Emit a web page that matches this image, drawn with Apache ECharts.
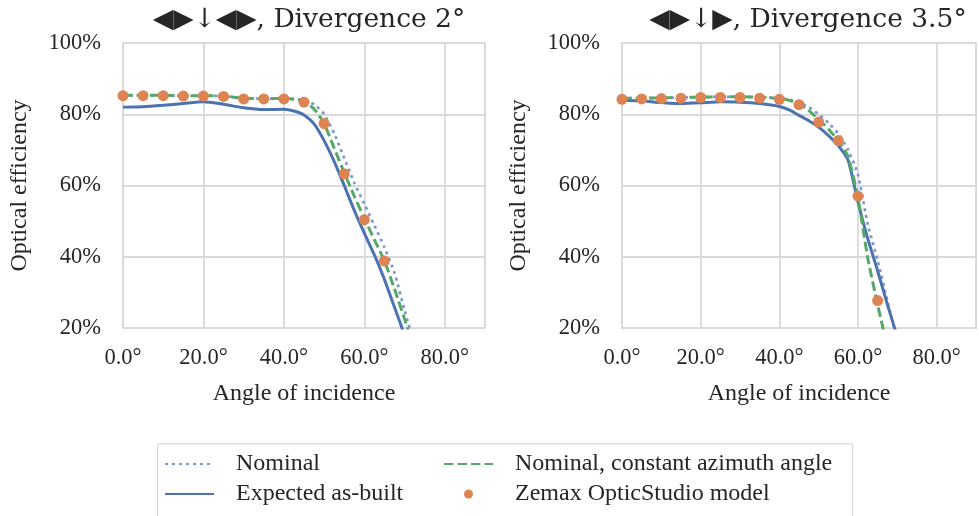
<!DOCTYPE html>
<html>
<head>
<meta charset="utf-8">
<script src="https://cdn.jsdelivr.net/npm/echarts@6/dist/echarts.min.js"></script>
<style>
  html, body { margin: 0; padding: 0; background: #ffffff; }
  #chart { width: 979px; height: 516px; }
</style>
</head>
<body>
<div id="chart"></div>
<script>
// Angle of incidence (degrees) sampled for the curves
const curveAngles = [0, 5, 10, 15, 20, 25, 30, 35, 40, 42.5, 45, 47.5, 50, 52.5, 55, 57.5, 60, 62.5, 65, 67.5, 70, 72.5];
// Angles at which the ray-trace model was evaluated
const modelAngles = [0, 5, 10, 15, 20, 25, 30, 35, 40, 45, 50, 55, 60, 65];

// Panel 1: divergence 2°
const leftNominal    = [85.3, 85.3, 85.3, 85.2, 85.2, 85.1, 84.5, 84.4, 84.4, 84.3, 83.9, 82.8, 80.0, 74.6, 67.7, 60.8, 54.8, 48.8, 42.6, 35.5, 25.0, 15.0];
const leftAsBuilt    = [82.0, 82.1, 82.5, 83.0, 83.5, 82.8, 81.8, 81.3, 81.4, 80.9, 79.8, 77.3, 72.6, 66.8, 60.0, 53.0, 46.6, 40.5, 33.6, 25.8, 18.0, null];
const leftConstAz    = [85.3, 85.3, 85.3, 85.2, 85.2, 85.1, 84.5, 84.4, 84.4, 84.2, 83.6, 81.5, 77.4, 70.5, 63.6, 57.0, 50.8, 44.8, 38.8, 31.0, 22.5, 14.0];
const leftModel      = [85.2, 85.2, 85.2, 85.1, 85.1, 85.0, 84.3, 84.3, 84.3, 83.4, 77.4, 63.3, 50.4, 38.8];

// Panel 2: divergence 3.5°
const rightNominal   = [84.5, 84.5, 84.6, 84.7, 84.8, 84.9, 84.9, 84.8, 84.5, 84.1, 83.3, 82.0, 80.0, 77.6, 74.5, 70.0, 63.0, 49.0, 39.0, 27.5, 16.5, null];
const rightAsBuilt   = [83.9, 83.7, 83.3, 83.0, 83.2, 83.5, 83.4, 83.0, 82.2, 81.2, 79.7, 78.2, 76.4, 74.0, 71.2, 67.0, 55.3, 45.0, 36.0, 26.5, 17.5, null];
const rightConstAz   = [84.5, 84.5, 84.6, 84.7, 84.8, 84.9, 84.9, 84.8, 84.4, 83.9, 83.0, 81.0, 78.6, 75.8, 72.6, 68.0, 56.5, 39.5, 26.5, 14.5, null, null];
const rightModel     = [84.2, 84.3, 84.4, 84.5, 84.7, 84.7, 84.7, 84.5, 84.2, 82.7, 77.8, 72.6, 57.0, 27.7];

const panelTitles = ['◀▶↓◀▶, Divergence 2°', '◀▶↓▶, Divergence 3.5°'];
const seriesNames = ['Nominal', 'Expected as-built', 'Nominal, constant azimuth angle', 'Zemax OpticStudio model'];
const xTicks = [0, 20, 40, 60, 80];
const yTicks = [20, 40, 60, 80, 100];

const TEXT = '#262626';
const GRID = '#dadada';
const SERIF = 'Liberation Serif, Times New Roman, serif';

function pairs(xs, ys) {
  const out = [];
  for (let i = 0; i < xs.length; i++) {
    if (ys[i] !== null && ys[i] !== undefined) out.push([xs[i], ys[i]]);
  }
  return out;
}

const panels = [
  { nominal: leftNominal, asBuilt: leftAsBuilt, constAz: leftConstAz, model: leftModel },
  { nominal: rightNominal, asBuilt: rightAsBuilt, constAz: rightConstAz, model: rightModel }
];
const gridLefts = [123, 622];

const grids = gridLefts.map(l => ({
  left: l, top: 43, width: 362, height: 285,
  show: true, borderColor: GRID, borderWidth: 1.8, backgroundColor: 'transparent'
}));

const xAxes = gridLefts.map((_, i) => ({
  type: 'value', gridIndex: i, min: 0, max: 90, interval: 20,
  name: 'Angle of incidence', nameLocation: 'middle', nameGap: 54,
  nameTextStyle: { fontFamily: SERIF, fontSize: 24, color: TEXT },
  axisLine: { show: false }, axisTick: { show: false },
  axisLabel: {
    fontFamily: SERIF, fontSize: 22.5, color: TEXT, margin: 19,
    formatter: v => (xTicks.indexOf(v) >= 0 ? v.toFixed(1) + '°' : '')
  },
  splitLine: { show: true, lineStyle: { color: GRID, width: 1.8 } }
}));

const yAxes = gridLefts.map((_, i) => ({
  type: 'value', gridIndex: i, min: 20, max: 100, interval: 20,
  name: 'Optical efficiency', nameLocation: 'middle', nameGap: 91,
  nameTextStyle: { fontFamily: SERIF, fontSize: 24, color: TEXT },
  axisLine: { show: false }, axisTick: { show: false },
  axisLabel: {
    fontFamily: SERIF, fontSize: 22.5, color: TEXT, margin: 22,
    formatter: v => (yTicks.indexOf(v) >= 0 ? v + '%' : '')
  },
  splitLine: { show: true, lineStyle: { color: GRID, width: 1.8 } }
}));

const series = [];
panels.forEach((p, i) => {
  series.push({
    name: seriesNames[0], type: 'line', xAxisIndex: i, yAxisIndex: i, z: 2,
    data: pairs(curveAngles, p.nominal), symbol: 'none', smooth: 0.2,
    lineStyle: { color: '#7d98cf', width: 2.7, type: [3, 4] },
    itemStyle: { color: '#7d98cf' }
  });
  series.push({
    name: seriesNames[1], type: 'line', xAxisIndex: i, yAxisIndex: i, z: 3,
    data: pairs(curveAngles, p.asBuilt), symbol: 'none', smooth: 0.2,
    lineStyle: { color: '#4C72B0', width: 3 },
    itemStyle: { color: '#4C72B0' }
  });
  series.push({
    name: seriesNames[2], type: 'line', xAxisIndex: i, yAxisIndex: i, z: 4,
    data: pairs(curveAngles, p.constAz), symbol: 'none', smooth: 0.2,
    lineStyle: { color: '#55A868', width: 3, type: [9.5, 4] },
    itemStyle: { color: '#55A868' }
  });
  series.push({
    name: seriesNames[3], type: 'scatter', xAxisIndex: i, yAxisIndex: i, z: 5,
    data: pairs(modelAngles, p.model), symbol: 'circle', symbolSize: 11,
    itemStyle: { color: '#DD8452', opacity: 1 }
  });
});

const legendText = { fontFamily: SERIF, fontSize: 24, color: TEXT, padding: [0, 0, 0, 17] };
// line entries show only the stroke sample, no marker
const lineEntry = name => ({ name: name, itemStyle: { opacity: 0 } });

const option = {
  backgroundColor: '#ffffff',
  animation: false,
  title: panelTitles.map((t, i) => ({
    text: t, left: gridLefts[i] + 181, top: 2, textAlign: 'center',
    textStyle: { fontFamily: 'DejaVu Serif, serif', fontSize: 26.5, fontWeight: 'normal', color: TEXT }
  })),
  graphic: [{
    type: 'rect', left: 157, top: 443, z: -1,
    shape: { width: 695, height: 90, r: 3 },
    style: { fill: '#ffffff', stroke: '#d9d9d9', lineWidth: 1.2 }
  }],
  legend: [
    {
      data: [lineEntry(seriesNames[0]), lineEntry(seriesNames[1])], orient: 'vertical',
      left: 159, top: 447, itemWidth: 49, itemHeight: 9, itemGap: 6,
      textStyle: legendText, selectedMode: false
    },
    {
      data: [lineEntry(seriesNames[2]), seriesNames[3]], orient: 'vertical',
      left: 438, top: 447, itemWidth: 49, itemHeight: 9, itemGap: 6,
      textStyle: legendText, selectedMode: false
    }
  ],
  grid: grids,
  xAxis: xAxes,
  yAxis: yAxes,
  series: series
};

const chart = echarts.init(document.getElementById('chart'), null, { renderer: 'canvas' });
chart.setOption(option);
</script>
</body>
</html>
